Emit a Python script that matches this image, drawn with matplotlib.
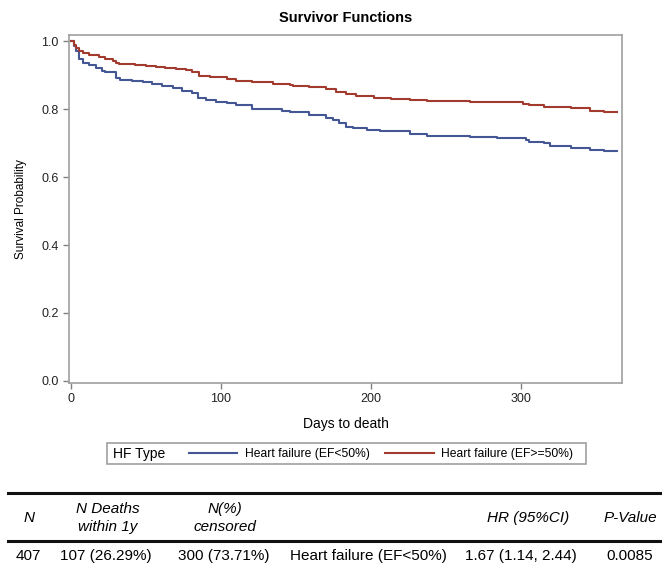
import matplotlib
matplotlib.use("Agg")
import matplotlib.pyplot as plt
from matplotlib.lines import Line2D
from matplotlib.patches import Rectangle

plt.rcParams['font.family'] = ['Liberation Sans', 'DejaVu Sans']

# Kaplan-Meier step points (days, survival)
days_low = [0, 2, 3.3, 5.5, 7.8, 12, 16.7, 21, 23, 30, 33, 41, 48, 54, 61, 68, 74, 81,
            85, 90, 97, 104, 110, 121, 132, 141, 146, 159, 170, 175, 179, 183, 188,
            197, 206, 226, 237, 266, 284, 300, 303, 305, 315, 319, 333, 346, 355, 364]
surv_low = [1.0, 0.985, 0.97, 0.946, 0.936, 0.929, 0.922, 0.912, 0.909, 0.892, 0.887,
            0.884, 0.879, 0.873, 0.868, 0.861, 0.853, 0.846, 0.833, 0.826, 0.821,
            0.817, 0.812, 0.800, 0.799, 0.795, 0.790, 0.784, 0.775, 0.768, 0.760,
            0.748, 0.743, 0.738, 0.735, 0.728, 0.721, 0.717, 0.716, 0.714, 0.709,
            0.704, 0.699, 0.691, 0.686, 0.681, 0.676, 0.676]

days_pres = [0, 2, 3.3, 5.5, 7.8, 12, 19, 22.4, 27.8, 30, 32, 43, 50, 57, 63, 70, 77,
             81, 85.5, 92.7, 104, 110, 121, 135, 146, 148, 159, 170, 177, 183, 190,
             202, 213, 226, 237, 266, 284, 301.5, 305, 315, 319, 333, 346, 355, 364]
surv_pres = [1.0, 0.99, 0.98, 0.97, 0.964, 0.959, 0.954, 0.948, 0.941, 0.936, 0.933,
             0.931, 0.926, 0.923, 0.920, 0.917, 0.914, 0.909, 0.898, 0.893, 0.888,
             0.884, 0.879, 0.874, 0.871, 0.868, 0.864, 0.859, 0.851, 0.843, 0.838,
             0.834, 0.830, 0.828, 0.824, 0.821, 0.820, 0.815, 0.812, 0.807, 0.805,
             0.802, 0.795, 0.791, 0.791]

labels = ["Heart failure (EF<50%)", "Heart failure (EF>=50%)"]
colors = ["#445694", "#A23A2E"]

# summary table
col_headers = ["N", "N Deaths\nwithin 1y", "N(%)\ncensored", "", "HR (95%CI)", "P-Value"]
row_values = ["407", "107 (26.29%)", "300 (73.71%)", "Heart failure (EF<50%)",
              "1.67 (1.14, 2.44)", "0.0085"]

W, H = 662, 566
fig = plt.figure(figsize=(W / 100, H / 100), dpi=100)
ax = fig.add_axes([69 / W, 1 - 383 / H, (622 - 69) / W, (383 - 35) / H])

ax.plot(days_low, surv_low, drawstyle="steps-post", color=colors[0], lw=1.5)
ax.plot(days_pres, surv_pres, drawstyle="steps-post", color=colors[1], lw=1.5)

ax.set_xlim(-1.3, 367.3)
ax.set_ylim(-0.006, 1.018)
ax.set_xticks([0, 100, 200, 300])
ax.set_yticks([0.0, 0.2, 0.4, 0.6, 0.8, 1.0])
ax.set_yticklabels(["0.0", "0.2", "0.4", "0.6", "0.8", "1.0"])
for s in ax.spines.values():
    s.set_color("#a0a0a0")
    s.set_linewidth(1.2)
ax.tick_params(colors="#808080", labelcolor="#222222", labelsize=9, length=4, width=1)
ax.set_title("Survivor Functions", fontsize=10.5, fontweight="bold", pad=9)
ax.set_xlabel("Days to death", fontsize=10, labelpad=8)
ax.set_ylabel("Survival Probability", fontsize=8.5, labelpad=10)

# legend box
fig.patches.append(Rectangle((107 / W, 1 - 464 / H), (586 - 107) / W, 21 / H,
                             transform=fig.transFigure, fill=False,
                             edgecolor="#a0a0a0", lw=1.2))
fig.text(113 / W, 1 - 454 / H, "HF Type", fontsize=10, va="center", ha="left")
handles = [Line2D([], [], color=c, lw=1.5) for c in colors]
fig.legend(handles, labels, loc="center", bbox_to_anchor=((188 + 574) / 2 / W, 1 - 454 / H),
           ncol=2, frameon=False, fontsize=8.7, handlelength=4.0, handletextpad=0.6,
           columnspacing=1.3, borderpad=0)

# table
for yy in (492.7, 540.5):
    fig.add_artist(Line2D([8 / W, 1.0], [1 - yy / H] * 2, transform=fig.transFigure,
                          color="#111111", lw=2.2))

hdr_x = [29, 108, 225, 368, 528, 630]
row_x = [28, 106, 224, 368, 521, 630]
for x, txt in zip(hdr_x, col_headers):
    if txt:
        fig.text(x / W, 1 - 518 / H, txt, ha="center", va="center", fontsize=11,
                 style="italic", linespacing=1.35)
for x, txt in zip(row_x, row_values):
    fig.text(x / W, 1 - 556 / H, txt, ha="center", va="center", fontsize=11)

fig.savefig("out.png", dpi=100)
